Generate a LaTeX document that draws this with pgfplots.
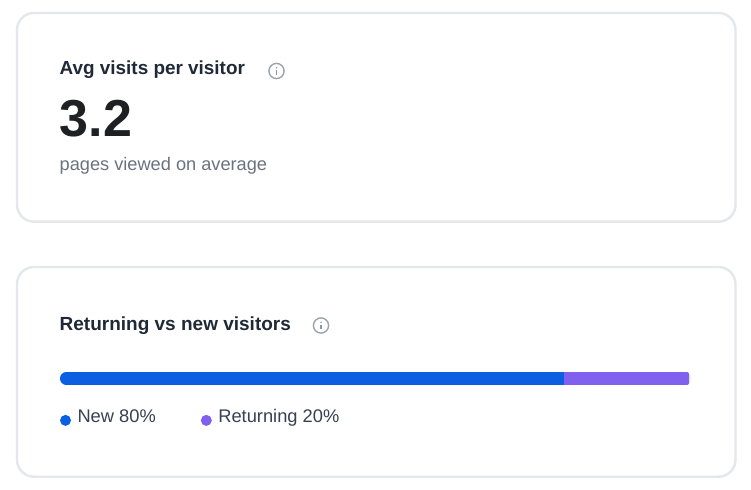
\documentclass[border=0pt]{standalone}
\usepackage{pgfplots}
\pgfplotsset{compat=1.18}
\usepackage{fontspec}
\setmainfont{Liberation Sans}
\definecolor{cardline}{HTML}{E4E7EB}
\definecolor{titlec}{HTML}{1F2937}
\definecolor{bigc}{HTML}{1E2024}
\definecolor{subc}{HTML}{6B7280}
\definecolor{legc}{HTML}{374151}
\definecolor{iconc}{HTML}{9CA3AF}
\definecolor{newc}{HTML}{0B5FE0}
\definecolor{retc}{HTML}{8060EE}
\definecolor{trackc}{HTML}{F3F4F6}
\newcommand{\fs}[1]{\fontsize{#1bp}{#1bp}\selectfont}
\newcommand{\infoicon}[2]{%
  \draw[iconc, line width=1.4bp] (#1,#2) circle (7.6bp);
  \fill[iconc!90!black] (#1,#2-3.2) circle (0.8bp);
  \draw[iconc!90!black, line width=1.1bp] (#1,#2-0.8) -- (#1,#2+3.6);
}
\begin{document}
\begin{tikzpicture}[x=1bp,y=-1bp]
\fill[white] (0,0) rectangle (751,490);
% cards
\draw[cardline, line width=2.4bp, fill=white, rounded corners=17bp] (17,13) rectangle (735.5,221.7);
\draw[cardline, line width=2.4bp, fill=white, rounded corners=17bp] (17,267) rectangle (735.5,476.7);
% card 1 text
\node[anchor=base west, inner sep=0pt, text=titlec] at (59.5,75) {\fs{18.9}\bfseries Avg visits per visitor};
\infoicon{276.5}{71}
\node[anchor=base west, inner sep=0pt, text=bigc] at (59.5,137) {\fs{52}\bfseries 3.2};
\node[anchor=base west, inner sep=0pt, text=subc] at (59.5,171) {\fs{18.2}pages viewed on average};
% card 2 text
\node[anchor=base west, inner sep=0pt, text=titlec] at (59.5,330) {\fs{19}\bfseries Returning vs new visitors};
\infoicon{321}{325.5}
% bar
\fill[trackc, rounded corners=5bp] (60,372) rectangle (691,385);
\begin{scope}
\clip (40,386) rectangle (720,460)
  (70,372) [rounded corners=6.4bp] -- (60,372) -- (60,385) -- (70,385) [rounded corners=2bp] -- (689,385) -- (689,372) -- cycle;
\begin{axis}[
  at={(60bp,-385bp)}, anchor=south west,
  scale only axis, width=630bp, height=13bp,
  xmin=0, xmax=100, ymin=-0.5, ymax=0.5,
  hide axis, clip=false,
  xbar stacked, bar width=13bp,
  legend columns=2,
  legend cell align=left,
  legend style={at={(rel axis cs:0,0)}, anchor=north west, draw=none, fill=none,
    inner sep=0pt, outer sep=0pt, yshift=-24bp, xshift=0bp,
    font=\fs{18.3}, text=legc,
    /tikz/every even column/.append style={column sep=45bp},
    nodes={inner sep=0pt}},
  legend image code/.code={\fill[#1] (5.5bp,-4bp) circle (5.5bp); \path (0,0) (17.5bp,0);},
]
\addplot[draw=none, fill=newc] coordinates {(80,0)};
\addplot[draw=none, fill=retc] coordinates {(20,0)};
\legend{New 80\%, Returning 20\%}
\end{axis}
\end{scope}
\end{tikzpicture}
\end{document}
